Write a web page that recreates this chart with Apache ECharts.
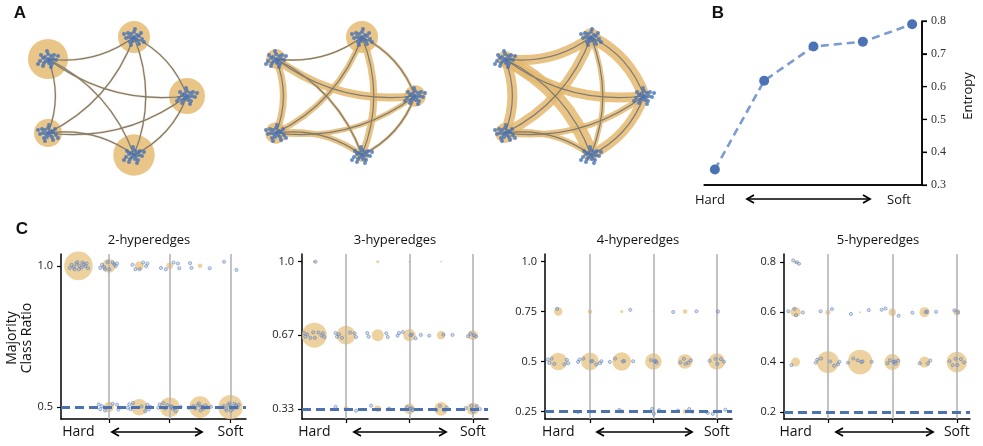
<!DOCTYPE html>
<html><head><meta charset="utf-8">
<script src="https://cdn.jsdelivr.net/npm/echarts@6/dist/echarts.min.js"></script>
<style>html,body{margin:0;padding:0;background:#fff}#c{width:983px;height:446px}</style>
</head><body><div id="c"></div>
<script>
// ---------- Panel A: network layout (shared by the three graphs) ----------
const NODE_X = [48, 134, 187, 48, 134];
const NODE_Y = [59, 37, 96, 133, 155];
const EDGES = [[1,0],[2,0],[0,3],[1,3],[1,4],[1,2],[2,3],[2,4],[3,4],[0,4]];
const NODE_W_G1 = [100, 64, 81, 49, 107];
const NODE_W_G2 = [25, 64, 29, 29, 12];
const NODE_W_G3 = [16, 20, 6, 25, 9];
const EDGE_W_G1 = [2.2, 2.2, 2.2, 2.2, 2.2, 2.2, 2.2, 2.2, 2.2, 2.2];
const EDGE_W_G2 = [2, 8, 7, 6, 7, 3, 5, 3, 6, 3];
const EDGE_W_G3 = [10, 10, 10, 10, 5, 12, 6, 10, 6, 14];
const CLUSTER = [[0,0],[-3,-2],[3,-3],[-2,2],[2,1],[5,0],[-5,-1],[0,-5],[1,4],[-4,4],[6,-4],[-7,-4],[4,5],[-1,-8],[8,1],[-8,2],[3,8],[-5,7],[10,-3],[-10,5]];

// ---------- Panel B ----------
const B_STEPS = [0, 1, 2, 3, 4];
const B_ENTROPY = [0.347, 0.618, 0.722, 0.737, 0.79];
const B_TICKS = [0.3, 0.4, 0.5, 0.6, 0.7, 0.8];

// ---------- Panel C ----------
const C_TITLES = ['2-hyperedges', '3-hyperedges', '4-hyperedges', '5-hyperedges'];
const C_POS = [0, 1, 2, 3, 4, 5];
const C_LEVELS = [[1.0, 0.5], [1.0, 0.667, 0.333], [1.0, 0.75, 0.5, 0.25], [0.8, 0.6, 0.4, 0.2]];
const C_TICK_LABELS = [['1.0','0.5'], ['1.0','0.67','0.33'], ['1.0','0.75','0.5','0.25'], ['0.8','0.6','0.4','0.2']];
const C_BASELINE = [0.5, 0.333, 0.25, 0.2];
const C2_SIZE = [[51,12,5,2.7,1.3,0],[0,6.3,17,25,29,37]];
const C2_PTS  = [[14,10,6,5,3,2],[0,7,9,10,12,12]];
const C3_SIZE = [[0.6,0.2,0.6,0.25,0.2,0],[39,22,9,9.6,4.4,6.3],[0,1.6,2.7,7,11.6,9.6]];
const C3_PTS  = [[1,0,0,0,0,0],[10,7,4,7,3,4],[0,2,2,4,4,5]];
const C4_SIZE = [[0,0,0,0.1,0,0],[4.4,1.3,0.6,0.2,1.3,0.2],[19,20,21.6,17,13.3,17],[0,0.25,1.3,0.7,1.3,1.2]];
const C4_PTS  = [[0,0,0,0,0,0],[1,0,1,0,2,1],[7,8,5,4,5,5],[0,1,1,3,3,3]];
const C5_SIZE = [[0.6,0,0,0,0,0],[6.3,1.6,0.25,3.4,6.3,2.7],[5,30,38,16,7.6,26.5],[0,0,0,0,0,0]];
const C5_PTS  = [[3,0,0,0,0,0],[4,2,2,3,4,2],[1,7,6,6,3,6],[0,0,0,0,0,0]];
const C_JITTER = [[0.05,0],[-0.1,0.6],[0.14,-0.5],[-0.2,-0.4],[0.24,0.5],[-0.05,1.1],[0.02,-1.0],[0.3,-0.1],[-0.3,0.3],[0.17,1.0],[-0.17,-1.0],[0.36,0.7],[-0.38,-0.6],[0.42,-0.7],[-0.44,0.8],[0.26,-1.2],[-0.28,1.2],[0.48,0.1],[-0.5,-0.2],[0.1,0.2]];

// ---------- build ----------
const ORANGE = '#e9c587';
const BLUE = '#4c72b0';
const SANS = '"Open Sans", "DejaVu Sans", sans-serif';
const grids = [], xAxes = [], yAxes = [], series = [], graphics = [];

function hiddenAxis(min, max, gi, inverse) {
  return {type:'value', gridIndex:gi, min:min, max:max, inverse:!!inverse, show:false, splitLine:{show:false}};
}

// Panel A
const A_LEFT = [0, 228, 457];
const NODE_WS = [NODE_W_G1, NODE_W_G2, NODE_W_G3];
const EDGE_WS = [EDGE_W_G1, EDGE_W_G2, EDGE_W_G3];
for (let g = 0; g < 3; g++) {
  grids.push({left:A_LEFT[g], top:0, width:200, height:200});
  xAxes.push(hiddenAxis(0, 200, g));
  yAxes.push(hiddenAxis(0, 200, g, true));
  const W = NODE_WS[g], EW = EDGE_WS[g];
  series.push({type:'scatter', xAxisIndex:g, yAxisIndex:g, z:1, silent:true,
    data: NODE_X.map((x,i)=>[x, NODE_Y[i], W[i]]),
    symbolSize: d => 4*Math.sqrt(d[2]),
    itemStyle:{color:ORANGE, opacity:1}});
  const coords = EDGES.map(e => [[NODE_X[e[0]], NODE_Y[e[0]]], [NODE_X[e[1]], NODE_Y[e[1]]]]);
  series.push({type:'lines', coordinateSystem:'cartesian2d', xAxisIndex:g, yAxisIndex:g, z:2, silent:true,
    data: coords.map((c,k)=>({coords:c, lineStyle:{width:EW[k]}})),
    lineStyle:{color:'#e4b96e', opacity:g === 0 ? 0.5 : 0.85, curveness:0.2}});
  series.push({type:'lines', coordinateSystem:'cartesian2d', xAxisIndex:g, yAxisIndex:g, z:3, silent:true,
    data: coords.map(c=>({coords:c})),
    lineStyle:{color:'#7c7a76', width:1.2, opacity:1, curveness:0.2}});
  const pts = [];
  NODE_X.forEach((x,i) => {
    const s = (i % 2) ? -1 : 1;
    CLUSTER.forEach(o => pts.push([x + s*o[0], NODE_Y[i] + o[1]]));
  });
  series.push({type:'scatter', xAxisIndex:g, yAxisIndex:g, z:4, silent:true, data:pts,
    symbolSize:4, itemStyle:{color:'#4470b6'}});
}

// Panel B
grids.push({left:704, top:21, width:218, height:164});
xAxes.push({type:'value', gridIndex:3, position:'bottom', min:-0.22, max:4.2, splitLine:{show:false}, z:20,
  axisLine:{show:true, onZero:false, lineStyle:{color:'#000', width:1.5}}, axisTick:{show:false}, axisLabel:{show:false}});
yAxes.push({type:'value', gridIndex:3, position:'right', min:0.3, max:0.8, interval:0.1, splitLine:{show:false}, z:20,
  axisLine:{show:true, onZero:false, lineStyle:{color:'#000', width:1.5}}, axisTick:{show:true, length:5, lineStyle:{color:'#000', width:1.2}},
  axisLabel:{margin:9, color:'#333', fontSize:12, fontFamily:'"Liberation Serif", "DejaVu Serif", serif', formatter:v=>v.toFixed(1)}});
series.push({type:'line', xAxisIndex:3, yAxisIndex:3, z:5, silent:true,
  data: B_STEPS.map((x,i)=>[x, B_ENTROPY[i]]),
  lineStyle:{color:'#7b9bd1', width:2.6, type:[8,5]},
  symbol:'circle', symbolSize:10, itemStyle:{color:'#4a72b5'}});

// Panel C
const C_GRID = [
  {left:61, width:185, xmin:-0.574, xmax:5.51, ymin:0.458, ymax:1.042},
  {left:302, width:186, xmin:-0.39, xmax:5.48, ymin:0.287, ymax:1.035},
  {left:545, width:187, xmin:-0.42, xmax:5.48, ymin:0.212, ymax:1.038},
  {left:784, width:186, xmin:-0.36, xmax:5.41, ymin:0.172, ymax:0.833}
];
const C_SIZES = [C2_SIZE, C3_SIZE, C4_SIZE, C5_SIZE];
const C_PTS = [C2_PTS, C3_PTS, C4_PTS, C5_PTS];
for (let k = 0; k < 4; k++) {
  const gi = 4 + k, G = C_GRID[k];
  grids.push({left:G.left, width:G.width, top:254, height:165});
  xAxes.push({type:'value', gridIndex:gi, position:'bottom', min:G.xmin, max:G.xmax, splitLine:{show:false},
    axisLine:{show:true, onZero:false, lineStyle:{color:'#000', width:1.5}},
    axisTick:{show:true, customValues:[1,3,5], length:4, lineStyle:{color:'#000', width:1.2}},
    axisLabel:{show:true, customValues:[0,5], margin:6, fontSize:14, color:'#111', fontFamily:SANS,
      formatter:v => v < 2.5 ? 'Hard' : 'Soft'}});
  const lv = C_LEVELS[k], lab = C_TICK_LABELS[k];
  yAxes.push({type:'value', gridIndex:gi, min:G.ymin, max:G.ymax, splitLine:{show:false},
    axisLine:{show:true, onZero:false, lineStyle:{color:'#000', width:1.5}},
    axisTick:{show:true, customValues:lv, length:4, lineStyle:{color:'#000', width:1.2}},
    axisLabel:{show:true, customValues:lv, margin:8, fontSize:11, color:'#222', fontFamily:SANS,
      formatter:v => { let b = 0; lv.forEach((l,i)=>{ if (Math.abs(l-v) < Math.abs(lv[b]-v)) b = i; }); return lab[b]; }}});
  const bub = [], pts = [];
  lv.forEach((l, li) => {
    C_POS.forEach(p => {
      const w = C_SIZES[k][li][p];
      if (w > 0) bub.push([p, l, w]);
      const n = C_PTS[k][li][p];
      const start = (p*3 + li*5) % C_JITTER.length;
      for (let i = 0; i < n; i++) {
        const j = C_JITTER[(start + i) % C_JITTER.length];
        pts.push([p + j[0]*0.75, l + j[1]*0.012]);
      }
    });
  });
  series.push({type:'scatter', xAxisIndex:gi, yAxisIndex:gi, z:2, silent:true, data:bub,
    symbolSize: d => 4*Math.sqrt(d[2]), itemStyle:{color:ORANGE},
    markLine:{silent:true, symbol:'none', z:3, label:{show:false},
      lineStyle:{color:'#b4b4b4', width:1.6, type:'solid'},
      data:[{xAxis:1},{xAxis:3},{xAxis:5}]}});
  series.push({type:'scatter', xAxisIndex:gi, yAxisIndex:gi, z:4, silent:true, data:pts,
    symbolSize:3.2, itemStyle:{color:'rgba(140,168,214,0.5)', borderColor:'rgba(76,114,176,0.85)', borderWidth:0.7},
    markLine:{silent:true, symbol:'none', z:6, label:{show:false},
      lineStyle:{color:BLUE, width:3, type:[9,5]},
      data:[{yAxis:C_BASELINE[k]}]}});
}

// annotations
function txt(t, x, y, size, opts) {
  return Object.assign({type:'text', x:x, y:y, silent:true, z:10,
    style:Object.assign({text:t, fill:'#111', font:size+'px '+SANS, align:'center', verticalAlign:'middle'}, (opts||{}).style||{})},
    (opts||{}).el||{});
}
function arrow(x1, x2, y) {
  const st = {stroke:'#000', lineWidth:1.6, fill:null};
  return [
    {type:'line', silent:true, z:10, shape:{x1:x1+1, y1:y, x2:x2-1, y2:y}, style:st},
    {type:'polyline', silent:true, z:10, shape:{points:[[x1+7,y-4],[x1,y],[x1+7,y+4]]}, style:{stroke:'#000', lineWidth:1.8, fill:null}},
    {type:'polyline', silent:true, z:10, shape:{points:[[x2-7,y-4],[x2,y],[x2-7,y+4]]}, style:{stroke:'#000', lineWidth:1.8, fill:null}}
  ];
}
graphics.push(txt('A', 20, 13, 17, {style:{font:'bold 17px "Liberation Sans", sans-serif'}}));
graphics.push(txt('B', 718, 13, 17, {style:{font:'bold 17px "Liberation Sans", sans-serif'}}));
graphics.push(txt('C', 22, 229, 17, {style:{font:'bold 17px "Liberation Sans", sans-serif'}}));
graphics.push(txt('Hard', 710, 200, 13));
graphics.push(txt('Soft', 899, 200, 13));
graphics.push(txt('Entropy', 968, 96, 13, {el:{rotation:Math.PI/2}}));
graphics.push(...arrow(747, 870, 199));
const TITLE_X = [149, 395, 638, 878];
C_TITLES.forEach((t,i) => graphics.push(txt(t, TITLE_X[i], 240, 13)));
[[112,202],[354,446],[597,692],[836,933]].forEach(a => graphics.push(...arrow(a[0], a[1], 432)));
graphics.push(txt('Majority\nClass Ratio', 20, 338, 14, {el:{rotation:Math.PI/2}, style:{lineHeight:15}}));

const chart = echarts.init(document.getElementById('c'), null, {renderer:'canvas'});
chart.setOption({animation:false, backgroundColor:'#fff', grid:grids, xAxis:xAxes, yAxis:yAxes, series:series, graphic:{elements:graphics}});

// Panel B spines, placed through the panel's own axis scales
const bl = chart.convertToPixel({gridIndex:3}, [-0.22, 0.3]);
const tr = chart.convertToPixel({gridIndex:3}, [4.2, 0.8]);
const spine = {stroke:'#000', lineWidth:1.5};
const bAxis = [
  {type:'line', silent:true, z:20, shape:{x1:bl[0], y1:bl[1], x2:tr[0], y2:bl[1]}, style:spine},
  {type:'line', silent:true, z:20, shape:{x1:tr[0], y1:bl[1]+0.75, x2:tr[0], y2:tr[1]}, style:spine}
];
B_TICKS.forEach(v => {
  const p = chart.convertToPixel({gridIndex:3}, [4.2, v]);
  bAxis.push({type:'line', silent:true, z:20, shape:{x1:p[0], y1:p[1], x2:p[0]+5, y2:p[1]}, style:{stroke:'#000', lineWidth:1.2}});
});
chart.setOption({graphic:{elements:graphics.concat(bAxis)}});
</script></body></html>
